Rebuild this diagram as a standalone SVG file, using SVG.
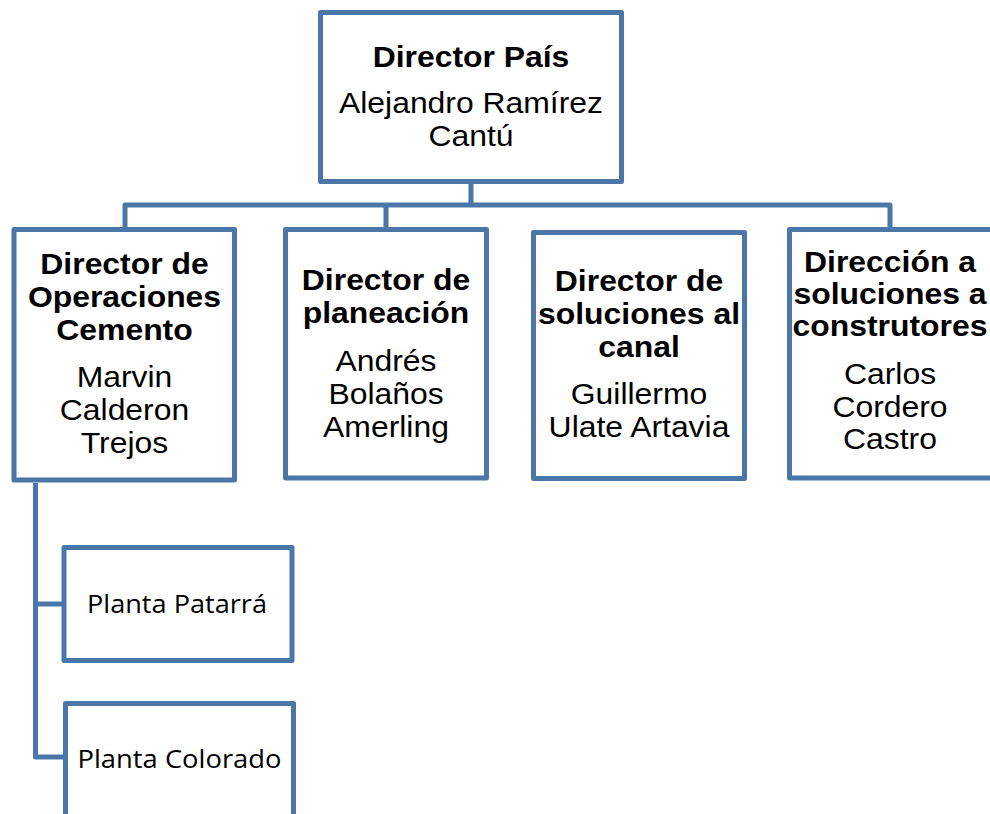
<svg xmlns="http://www.w3.org/2000/svg" width="990" height="814" viewBox="0 0 990 814">
<style>
.box{fill:#ffffff;stroke:#4A76A8;stroke-width:5;stroke-linejoin:round}
.con{fill:none;stroke:#4A76A8;stroke-width:5;stroke-linejoin:round}
.b{font-family:"Liberation Sans",Arial,sans-serif;font-weight:bold;font-size:29px;fill:#000;text-anchor:middle}
.r{font-family:"Liberation Sans",Arial,sans-serif;font-size:29px;fill:#000;text-anchor:middle}
.p{font-family:"Open Sans","Noto Sans",sans-serif;font-size:26px;fill:#000}
</style>
<rect width="990" height="814" fill="#ffffff"/>
<g id="connectors">
<path class="con" d="M471 181 V205 M125 229 V205 H890 V229 M386 205 V229"/>
<path class="con" d="M35.5 483 V757 H65.5 M35.5 604 H64"/>
</g>
<g id="director-pais">
<rect class="box" x="320.5" y="12.5" width="301" height="169"/>
<text class="b" transform="translate(471 0) scale(1.1 1)"><tspan x="0" y="67">Director País</tspan></text>
<text class="r" transform="translate(471 0) scale(1.1 1)"><tspan x="0" y="113">Alejandro Ramírez</tspan><tspan x="0" y="146.5">Cantú</tspan></text>
</g>
<g id="director-operaciones">
<rect class="box" x="14" y="229.5" width="220.5" height="250.5"/>
<text class="b" transform="translate(124.5 0) scale(1.1 1)"><tspan x="0" y="274">Director de</tspan><tspan x="0" y="307">Operaciones</tspan><tspan x="0" y="340">Cemento</tspan></text>
<text class="r" transform="translate(124.5 0) scale(1.1 1)"><tspan x="0" y="387">Marvin</tspan><tspan x="0" y="420">Calderon</tspan><tspan x="0" y="453">Trejos</tspan></text>
</g>
<g id="director-planeacion">
<rect class="box" x="285.5" y="229.5" width="201" height="248.5"/>
<text class="b" transform="translate(386 0) scale(1.1 1)"><tspan x="0" y="290">Director de</tspan><tspan x="0" y="323">planeación</tspan></text>
<text class="r" transform="translate(386 0) scale(1.1 1)"><tspan x="0" y="371">Andrés</tspan><tspan x="0" y="404">Bolaños</tspan><tspan x="0" y="437">Amerling</tspan></text>
</g>
<g id="director-soluciones-canal">
<rect class="box" x="533.5" y="232.5" width="211" height="246"/>
<text class="b" transform="translate(639 0) scale(1.1 1)"><tspan x="0" y="291">Director de</tspan><tspan x="0" y="324">soluciones al</tspan><tspan x="0" y="357">canal</tspan></text>
<text class="r" transform="translate(639 0) scale(1.1 1)"><tspan x="0" y="404">Guillermo</tspan><tspan x="0" y="437">Ulate Artavia</tspan></text>
</g>
<g id="direccion-constructores">
<rect class="box" x="789.5" y="229.5" width="203" height="248.5"/>
<text class="b" transform="translate(890 0) scale(1.1 1)"><tspan x="0" y="272">Dirección a</tspan><tspan x="0" y="304">soluciones a</tspan><tspan x="0" y="336">construtores</tspan></text>
<text class="r" transform="translate(890 0) scale(1.1 1)"><tspan x="0" y="384">Carlos</tspan><tspan x="0" y="417">Cordero</tspan><tspan x="0" y="449.5">Castro</tspan></text>
</g>
<g id="planta-patarra">
<rect class="box" x="64" y="547.5" width="228" height="113"/>
<text class="p" x="87" y="613" textLength="180" lengthAdjust="spacingAndGlyphs">Planta Patarrá</text>
</g>
<g id="planta-colorado">
<rect class="box" x="65.5" y="703.5" width="228" height="130"/>
<text class="p" x="77.5" y="768" textLength="204" lengthAdjust="spacingAndGlyphs">Planta Colorado</text>
</g>
</svg>
